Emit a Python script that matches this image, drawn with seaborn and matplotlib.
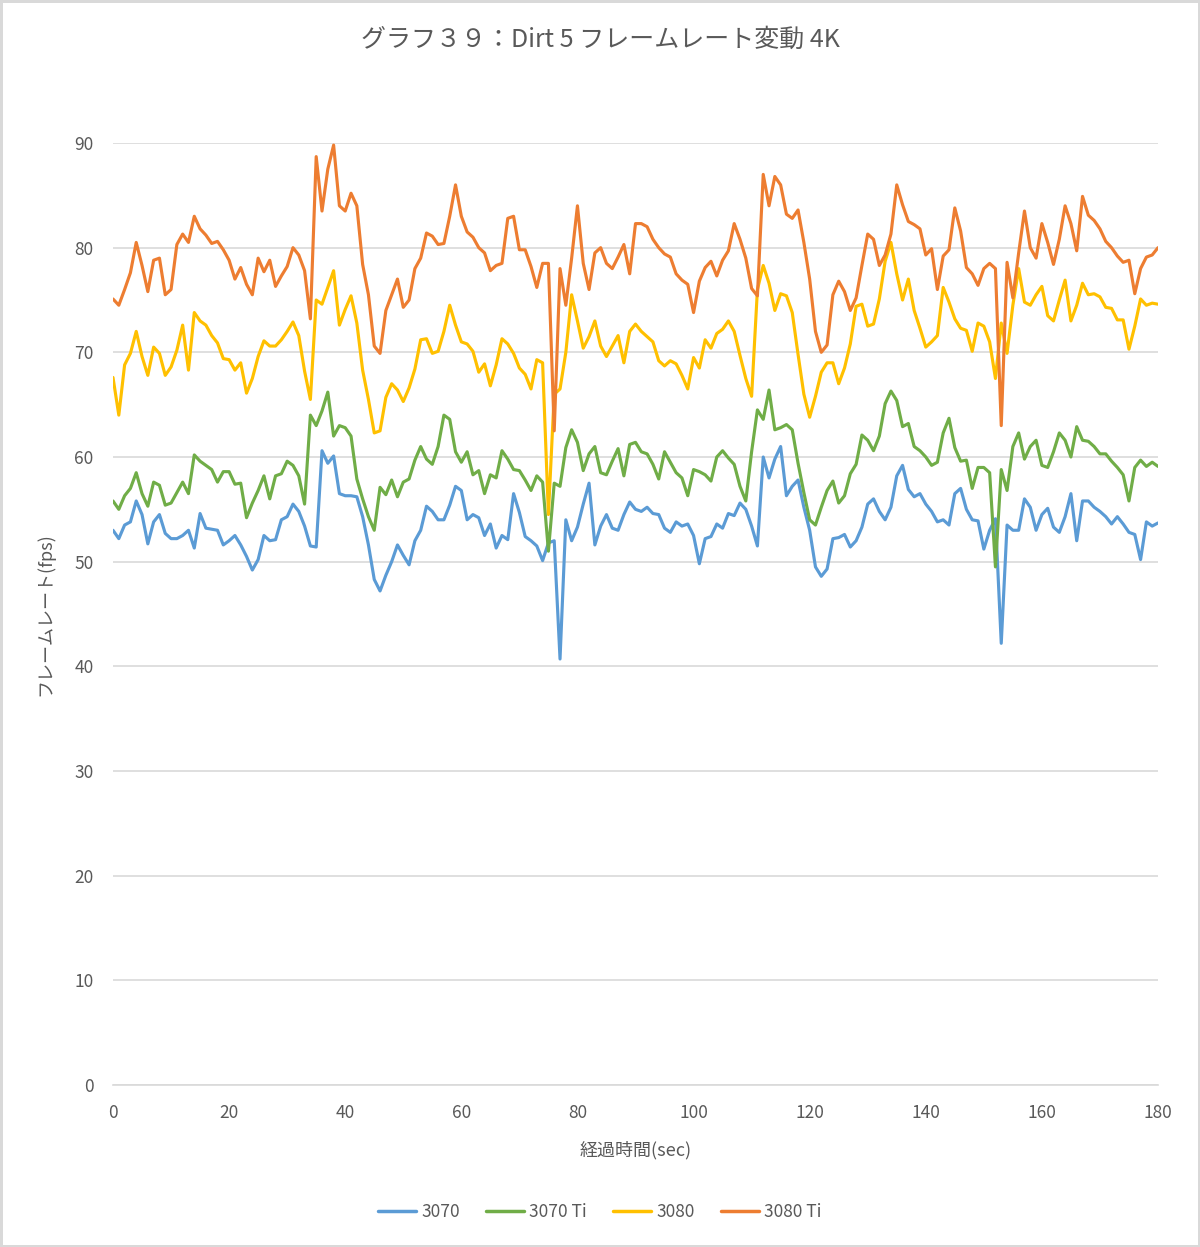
import numpy as np
import pandas as pd
import matplotlib
matplotlib.use('Agg')
import matplotlib.pyplot as plt
import seaborn as sns

# elapsed time (sec), one reading per second
seconds = list(range(0, 181))

# 3070
fps_3070 = [
    53.0, 52.2, 53.5, 53.8, 55.8, 54.5, 51.7, 53.8, 54.5, 52.7,
    52.2, 52.2, 52.5, 53.0, 51.3, 54.6, 53.2, 53.1, 53.0, 51.6,
    52.0, 52.5, 51.6, 50.5, 49.2, 50.2, 52.5, 52.0, 52.1, 54.0,
    54.3, 55.5, 54.8, 53.4, 51.5, 51.4, 60.6, 59.4, 60.1, 56.5,
    56.3, 56.3, 56.2, 54.3, 51.6, 48.3, 47.2, 48.7, 50.0, 51.6,
    50.6, 49.7, 52.0, 53.0, 55.3, 54.8, 54.0, 54.0, 55.4, 57.2,
    56.8, 54.0, 54.5, 54.2, 52.5, 53.6, 51.3, 52.5, 52.1, 56.5,
    54.7, 52.4, 52.0, 51.5, 50.1, 51.8, 52.0, 40.7, 54.0, 52.0,
    53.3, 55.5, 57.5, 51.6, 53.4, 54.5, 53.2, 53.0, 54.5, 55.7,
    55.0, 54.8, 55.2, 54.6, 54.5, 53.2, 52.8, 53.8, 53.4, 53.6,
    52.5, 49.8, 52.2, 52.4, 53.6, 53.2, 54.6, 54.4, 55.6, 55.0,
    53.4, 51.5, 60.0, 58.0, 59.8, 61.0, 56.3, 57.2, 57.8, 55.2,
    53.0, 49.5, 48.6, 49.3, 52.2, 52.3, 52.6, 51.4, 52.0, 53.3,
    55.5, 56.0, 54.8, 54.0, 55.2, 58.2, 59.2, 56.9, 56.2, 56.5,
    55.5, 54.8, 53.8, 54.0, 53.5, 56.5, 57.0, 55.0, 54.0, 53.9,
    51.2, 53.0, 54.1, 42.2, 53.5, 53.0, 53.0, 56.0, 55.2, 53.0,
    54.5, 55.1, 53.3, 52.8, 54.3, 56.5, 52.0, 55.8, 55.8, 55.2,
    54.8, 54.3, 53.6, 54.3, 53.6, 52.8, 52.6, 50.2, 53.8, 53.4,
    53.7,
]

# 3070 Ti
fps_3070ti = [
    55.8, 55.0, 56.3, 57.0, 58.5, 56.5, 55.3, 57.6, 57.3, 55.4,
    55.6, 56.6, 57.6, 56.5, 60.2, 59.6, 59.2, 58.8, 57.6, 58.6,
    58.6, 57.4, 57.5, 54.2, 55.6, 56.8, 58.2, 56.0, 58.2, 58.4,
    59.6, 59.2, 58.2, 55.5, 64.0, 63.0, 64.4, 66.2, 62.0, 63.0,
    62.8, 62.0, 57.9, 56.0, 54.3, 53.0, 57.1, 56.4, 57.8, 56.2,
    57.6, 57.9, 59.7, 61.0, 59.8, 59.3, 61.0, 64.0, 63.6, 60.5,
    59.5, 60.5, 58.3, 58.7, 56.5, 58.3, 58.0, 60.6, 59.8, 58.8,
    58.7, 57.8, 56.8, 58.2, 57.6, 51.0, 57.5, 57.2, 60.9, 62.6,
    61.4, 58.7, 60.3, 61.0, 58.5, 58.3, 59.6, 60.8, 58.2, 61.2,
    61.4, 60.5, 60.3, 59.3, 57.9, 60.5, 59.5, 58.5, 58.0, 56.3,
    58.8, 58.6, 58.3, 57.7, 60.0, 60.6, 59.9, 59.3, 57.2, 55.8,
    60.5, 64.5, 63.6, 66.4, 62.6, 62.8, 63.1, 62.6, 59.4, 56.6,
    54.0, 53.5, 55.2, 56.8, 57.7, 55.6, 56.3, 58.4, 59.3, 62.1,
    61.6, 60.6, 62.0, 65.1, 66.3, 65.4, 62.9, 63.2, 61.0, 60.6,
    60.0, 59.2, 59.5, 62.3, 63.7, 60.9, 59.6, 59.7, 57.0, 59.0,
    59.0, 58.5, 49.5, 58.8, 56.8, 61.0, 62.3, 59.8, 61.0, 61.6,
    59.2, 59.0, 60.5, 62.3, 61.6, 60.0, 62.9, 61.6, 61.5, 61.0,
    60.3, 60.3, 59.6, 59.0, 58.3, 55.8, 59.0, 59.7, 59.1, 59.5,
    59.1,
]

# 3080
fps_3080 = [
    67.6, 64.0, 68.8, 69.9, 72.0, 69.6, 67.8, 70.5, 69.9, 67.8,
    68.6, 70.2, 72.6, 68.3, 73.8, 73.0, 72.6, 71.6, 70.9, 69.4,
    69.3, 68.3, 69.0, 66.1, 67.5, 69.6, 71.1, 70.6, 70.6, 71.2,
    72.0, 72.9, 71.6, 68.2, 65.5, 75.0, 74.6, 76.2, 77.8, 72.6,
    74.1, 75.4, 72.8, 68.3, 65.5, 62.3, 62.5, 65.7, 67.0, 66.4,
    65.3, 66.6, 68.4, 71.2, 71.3, 69.9, 70.1, 72.0, 74.5, 72.6,
    71.0, 70.8, 70.1, 68.1, 68.9, 66.8, 68.8, 71.3, 70.8, 69.9,
    68.5, 67.9, 66.5, 69.3, 69.0, 54.5, 66.0, 66.5, 70.0, 75.5,
    73.0, 70.4, 71.5, 73.0, 70.6, 69.6, 70.6, 71.6, 69.0, 72.0,
    72.7, 72.0, 71.5, 71.0, 69.2, 68.7, 69.2, 68.9, 67.8, 66.5,
    69.5, 68.5, 71.2, 70.4, 71.8, 72.2, 73.0, 72.0, 69.7, 67.5,
    65.8, 76.0, 78.3, 76.6, 74.0, 75.6, 75.4, 73.8, 69.8, 66.0,
    63.8, 65.8, 68.1, 69.0, 69.0, 67.0, 68.5, 70.8, 74.4, 74.6,
    72.5, 72.7, 75.1, 78.7, 80.5, 77.5, 75.0, 77.0, 74.0, 72.3,
    70.5, 71.0, 71.6, 76.2, 74.8, 73.2, 72.3, 72.1, 70.1, 72.8,
    72.5, 71.0, 67.5, 72.8, 69.9, 74.5, 78.0, 74.8, 74.5, 75.5,
    76.3, 73.5, 73.0, 75.0, 76.9, 73.0, 74.5, 76.6, 75.5, 75.6,
    75.3, 74.3, 74.2, 73.1, 73.1, 70.3, 72.5, 75.1, 74.5, 74.7,
    74.6,
]

# 3080 Ti
fps_3080ti = [
    75.1, 74.5, 76.0, 77.6, 80.5, 78.3, 75.8, 78.8, 79.0, 75.5,
    76.0, 80.3, 81.3, 80.5, 83.0, 81.8, 81.2, 80.4, 80.6, 79.8,
    78.8, 77.0, 78.1, 76.5, 75.5, 79.0, 77.7, 78.8, 76.3, 77.3,
    78.2, 80.0, 79.3, 77.8, 73.2, 88.7, 83.5, 87.5, 89.8, 84.0,
    83.5, 85.2, 84.0, 78.4, 75.5, 70.6, 69.9, 74.0, 75.5, 77.0,
    74.3, 75.0, 78.0, 79.0, 81.4, 81.1, 80.3, 80.4, 83.0, 86.0,
    83.0, 81.5, 81.0, 80.0, 79.5, 77.8, 78.3, 78.5, 82.8, 83.0,
    79.8, 79.8, 78.2, 76.2, 78.5, 78.5, 62.5, 78.0, 74.5, 79.0,
    84.0, 78.5, 76.0, 79.5, 80.0, 78.5, 78.0, 79.1, 80.3, 77.5,
    82.3, 82.3, 82.0, 80.8, 80.0, 79.4, 79.1, 77.5, 76.9, 76.5,
    73.8, 76.8, 78.1, 78.7, 77.3, 78.8, 79.7, 82.3, 80.8, 79.0,
    76.1, 75.4, 87.0, 84.0, 86.8, 86.0, 83.2, 82.8, 83.6, 80.5,
    77.0, 72.0, 70.0, 70.7, 75.5, 76.8, 75.8, 74.0, 75.2, 78.3,
    81.3, 80.8, 78.3, 79.3, 81.3, 86.0, 84.1, 82.5, 82.2, 81.8,
    79.3, 79.9, 76.0, 79.2, 79.8, 83.8, 81.6, 78.1, 77.5, 76.4,
    78.0, 78.5, 78.0, 63.0, 78.6, 75.2, 79.5, 83.5, 80.0, 79.0,
    82.3, 80.5, 78.4, 80.8, 84.0, 82.3, 79.7, 84.9, 83.1, 82.6,
    81.8, 80.6, 80.0, 79.2, 78.6, 78.8, 75.6, 78.0, 79.1, 79.3,
    80.0,
]

cards = ['3070', '3070 Ti', '3080', '3080 Ti']
colors = ['#5B9BD5', '#70AD47', '#FFC000', '#ED7D31']

df = pd.concat([
    pd.DataFrame({'sec': seconds, 'fps': vals, 'card': name})
    for name, vals in zip(cards, [fps_3070, fps_3070ti, fps_3080, fps_3080ti])
])

sns.set_style('white')
plt.rcParams['font.family'] = ['Noto Sans CJK JP', 'DejaVu Sans']
gray = '#595959'

fig = plt.figure(figsize=(12, 12.47), dpi=100, facecolor='white',
                 edgecolor='#d9d9d9', linewidth=2.5)
ax = fig.add_axes([113 / 1200, 1 - 1085 / 1247, (1158 - 113) / 1200, (1085 - 143) / 1247])

sns.lineplot(data=df, x='sec', y='fps', hue='card', hue_order=cards,
             palette=dict(zip(cards, colors)), linewidth=2.25, ax=ax, legend=False)

ax.set_xlim(0, 180)
ax.set_ylim(0, 90)
ax.set_xticks(range(0, 181, 20))
ax.set_yticks(range(0, 91, 10))
ax.grid(axis='y', color='#d9d9d9', linewidth=1.2)
ax.grid(axis='x', visible=False)
for s in ['top', 'right', 'left']:
    ax.spines[s].set_visible(False)
ax.spines['bottom'].set_color('#d9d9d9')
ax.spines['bottom'].set_linewidth(1.2)
ax.tick_params(axis='both', length=0, labelsize=12.5, labelcolor=gray, pad=14)

ax.set_xlabel('経過時間(sec)', fontsize=13, color=gray, labelpad=13)
ax.set_ylabel('フレームレート(fps)', fontsize=13, color=gray, labelpad=14)

fig.text(0.5, 1 - 40 / 1247, 'グラフ３９：Dirt 5 フレームレート変動 4K',
         ha='center', va='center', fontsize=18, color=gray)

handles = [plt.Line2D([], [], color=c, linewidth=2.5) for c in colors]
fig.legend(handles, cards, loc='center', bbox_to_anchor=(0.5, 1 - 1212 / 1247),
           ncol=4, frameon=False, fontsize=12.5, labelcolor=gray,
           handlelength=2.2, handletextpad=0.3, columnspacing=1.5)

fig.savefig('out.png', dpi=100, facecolor='white', edgecolor='#d9d9d9')
